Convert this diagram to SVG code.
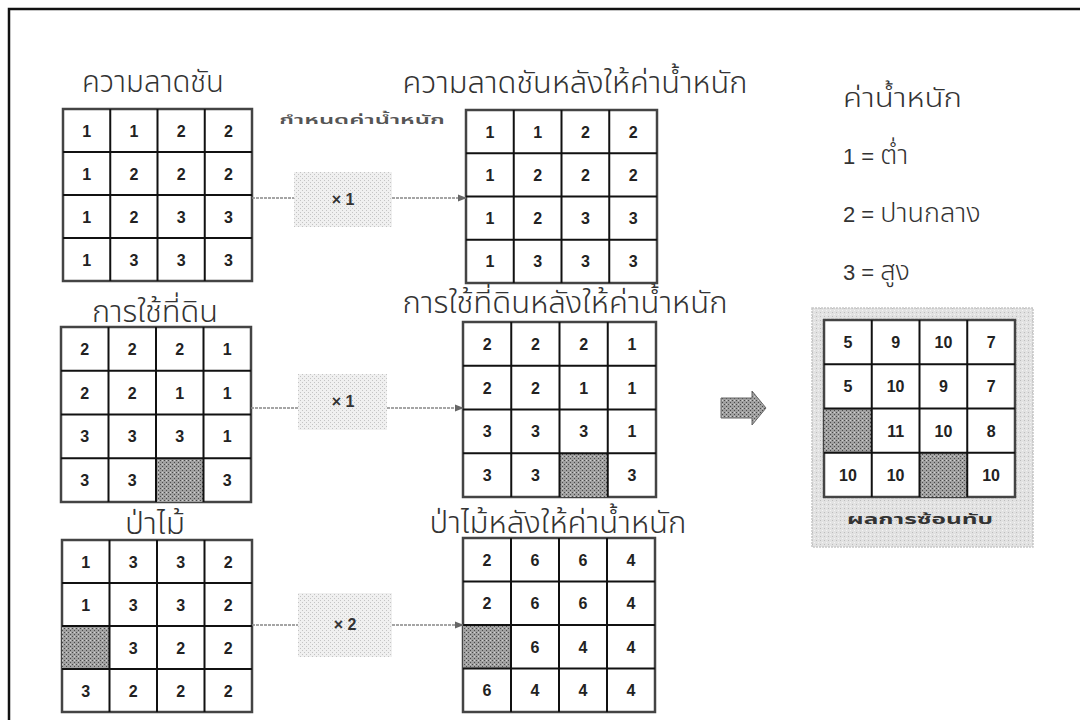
<svg xmlns="http://www.w3.org/2000/svg" width="1080" height="720" viewBox="0 0 1080 720">
<defs>
<pattern id="dark" width="4" height="4" patternUnits="userSpaceOnUse">
<rect width="4" height="4" fill="#a0a0a0"/>
<rect x="0" y="0" width="1" height="1" fill="#4a4a4a"/>
<rect x="2" y="2" width="1" height="1" fill="#4a4a4a"/>
<rect x="2" y="0" width="1" height="1" fill="#cfcfcf"/>
</pattern>
<pattern id="light" width="4" height="4" patternUnits="userSpaceOnUse">
<rect width="4" height="4" fill="#f0f0f0"/>
<rect x="0" y="0" width="1" height="1" fill="#c4c4c4"/>
<rect x="2" y="2" width="1" height="1" fill="#c4c4c4"/>
</pattern>
<pattern id="mid" width="4" height="4" patternUnits="userSpaceOnUse">
<rect width="4" height="4" fill="#e2e2e2"/>
<rect x="0" y="0" width="1" height="1" fill="#bdbdbd"/>
<rect x="2" y="2" width="1" height="1" fill="#f4f4f4"/>
</pattern>
<marker id="ah" viewBox="0 0 10 10" refX="9" refY="5" markerWidth="9" markerHeight="9" markerUnits="userSpaceOnUse" orient="auto">
<path d="M0,1 L10,5 L0,9 z" fill="#666"/>
</marker>
<style>
.outer{fill:#fff;stroke:#444;stroke-width:2.5}
.ln{stroke:#111;stroke-width:2}
.gc{fill:url(#dark)}
.n{font-family:"Liberation Sans",Arial,sans-serif;font-weight:bold;font-size:16px;fill:#222;text-anchor:middle}
.t{font-family:"Noto Sans Thai","Noto Sans","DejaVu Sans",sans-serif;font-size:30px;font-weight:300;fill:#333;text-anchor:middle}
.lg{font-family:"Noto Sans Thai","Liberation Sans","Noto Sans",sans-serif;font-size:27px;font-weight:300;fill:#333}
.dg{font-family:"Liberation Sans",Arial,sans-serif;font-size:22px;font-weight:normal}
.wb{fill:url(#light)}
.wt{font-family:"Liberation Sans",Arial,sans-serif;font-weight:bold;font-size:16px;fill:#333;text-anchor:middle}
.cn{stroke:#888;stroke-width:1.6;stroke-dasharray:3 1;fill:none}
</style>
</defs>
<rect width="1080" height="720" fill="#fff"/>
<path d="M1080 9 H9 V720" fill="none" stroke="#111" stroke-width="2.5"/>

<g id="title-slope"><text class="t" x="153" y="92" textLength="142" lengthAdjust="spacingAndGlyphs">ความลาดชัน</text></g>
<g id="title-slope-w"><text class="t" x="575" y="93" textLength="345" lengthAdjust="spacingAndGlyphs">ความลาดชันหลังให้ค่าน้ำหนัก</text></g>
<g id="title-land"><text class="t" x="155" y="322" textLength="126" lengthAdjust="spacingAndGlyphs">การใช้ที่ดิน</text></g>
<g id="title-land-w"><text class="t" x="565" y="313" textLength="325" lengthAdjust="spacingAndGlyphs">การใช้ที่ดินหลังให้ค่าน้ำหนัก</text></g>
<g id="title-forest"><text class="t" x="155" y="534" textLength="60" lengthAdjust="spacingAndGlyphs">ป่าไม้</text></g>
<g id="title-forest-w"><text class="t" x="558" y="533" textLength="257" lengthAdjust="spacingAndGlyphs">ป่าไม้หลังให้ค่าน้ำหนัก</text></g>
<g id="weight-label"><text transform="translate(362,124) scale(1.85,1)" x="0" y="0" font-family="Noto Sans Thai,Noto Sans,sans-serif" font-size="13" font-weight="600" fill="#555" text-anchor="middle">กำหนดค่าน้ำหนัก</text></g>

<g id="legend">
<text class="lg" x="843" y="107" textLength="119" lengthAdjust="spacingAndGlyphs">ค่าน้ำหนัก</text>
<text class="lg" x="843" y="164"><tspan class="dg">1 = </tspan>ต่ำ</text>
<text class="lg" x="843" y="222"><tspan class="dg">2 = </tspan>ปานกลาง</text>
<text class="lg" x="843" y="280"><tspan class="dg">3 = </tspan>สูง</text>
</g>

<g id="grid-slope">
<rect class="outer" x="63" y="109" width="189" height="172"/>
<path class="ln" d="M110.25 109V281M157.5 109V281M204.75 109V281M63 152H252M63 195H252M63 238H252"/>
<text class="n" x="86.6" y="136.5">1</text><text class="n" x="133.9" y="136.5">1</text><text class="n" x="181.1" y="136.5">2</text><text class="n" x="228.4" y="136.5">2</text>
<text class="n" x="86.6" y="179.5">1</text><text class="n" x="133.9" y="179.5">2</text><text class="n" x="181.1" y="179.5">2</text><text class="n" x="228.4" y="179.5">2</text>
<text class="n" x="86.6" y="222.5">1</text><text class="n" x="133.9" y="222.5">2</text><text class="n" x="181.1" y="222.5">3</text><text class="n" x="228.4" y="222.5">3</text>
<text class="n" x="86.6" y="265.5">1</text><text class="n" x="133.9" y="265.5">3</text><text class="n" x="181.1" y="265.5">3</text><text class="n" x="228.4" y="265.5">3</text>
</g>

<g id="grid-land">
<rect class="outer" x="61" y="327" width="190" height="175"/>
<rect class="gc" x="156" y="458.25" width="47.5" height="43.75"/>
<path class="ln" d="M108.5 327V502M156 327V502M203.5 327V502M61 370.75H251M61 414.5H251M61 458.25H251"/>
<text class="n" x="84.75" y="354.9">2</text><text class="n" x="132.25" y="354.9">2</text><text class="n" x="179.75" y="354.9">2</text><text class="n" x="227.25" y="354.9">1</text>
<text class="n" x="84.75" y="398.6">2</text><text class="n" x="132.25" y="398.6">2</text><text class="n" x="179.75" y="398.6">1</text><text class="n" x="227.25" y="398.6">1</text>
<text class="n" x="84.75" y="442.4">3</text><text class="n" x="132.25" y="442.4">3</text><text class="n" x="179.75" y="442.4">3</text><text class="n" x="227.25" y="442.4">1</text>
<text class="n" x="84.75" y="486.1">3</text><text class="n" x="132.25" y="486.1">3</text><text class="n" x="227.25" y="486.1">3</text>
</g>

<g id="grid-forest">
<rect class="outer" x="62" y="540" width="190" height="172"/>
<rect class="gc" x="62" y="626" width="47.5" height="43"/>
<path class="ln" d="M109.5 540V712M157 540V712M204.5 540V712M62 583H252M62 626H252M62 669H252"/>
<text class="n" x="85.75" y="567.5">1</text><text class="n" x="133.25" y="567.5">3</text><text class="n" x="180.75" y="567.5">3</text><text class="n" x="228.25" y="567.5">2</text>
<text class="n" x="85.75" y="610.5">1</text><text class="n" x="133.25" y="610.5">3</text><text class="n" x="180.75" y="610.5">3</text><text class="n" x="228.25" y="610.5">2</text>
<text class="n" x="133.25" y="653.5">3</text><text class="n" x="180.75" y="653.5">2</text><text class="n" x="228.25" y="653.5">2</text>
<text class="n" x="85.75" y="696.5">3</text><text class="n" x="133.25" y="696.5">2</text><text class="n" x="180.75" y="696.5">2</text><text class="n" x="228.25" y="696.5">2</text>
</g>

<g id="grid-slope-w">
<rect class="outer" x="466" y="110" width="191" height="173"/>
<path class="ln" d="M513.75 110V283M561.5 110V283M609.25 110V283M466 153.25H657M466 196.5H657M466 239.75H657"/>
<text class="n" x="489.9" y="137.6">1</text><text class="n" x="537.6" y="137.6">1</text><text class="n" x="585.4" y="137.6">2</text><text class="n" x="633.1" y="137.6">2</text>
<text class="n" x="489.9" y="180.9">1</text><text class="n" x="537.6" y="180.9">2</text><text class="n" x="585.4" y="180.9">2</text><text class="n" x="633.1" y="180.9">2</text>
<text class="n" x="489.9" y="224.1">1</text><text class="n" x="537.6" y="224.1">2</text><text class="n" x="585.4" y="224.1">3</text><text class="n" x="633.1" y="224.1">3</text>
<text class="n" x="489.9" y="267.4">1</text><text class="n" x="537.6" y="267.4">3</text><text class="n" x="585.4" y="267.4">3</text><text class="n" x="633.1" y="267.4">3</text>
</g>

<g id="grid-land-w">
<rect class="outer" x="463" y="322" width="193" height="175"/>
<rect class="gc" x="559.5" y="453.25" width="48.25" height="43.75"/>
<path class="ln" d="M511.25 322V497M559.5 322V497M607.75 322V497M463 365.75H656M463 409.5H656M463 453.25H656"/>
<text class="n" x="487.1" y="349.9">2</text><text class="n" x="535.4" y="349.9">2</text><text class="n" x="583.6" y="349.9">2</text><text class="n" x="631.9" y="349.9">1</text>
<text class="n" x="487.1" y="393.6">2</text><text class="n" x="535.4" y="393.6">2</text><text class="n" x="583.6" y="393.6">1</text><text class="n" x="631.9" y="393.6">1</text>
<text class="n" x="487.1" y="437.4">3</text><text class="n" x="535.4" y="437.4">3</text><text class="n" x="583.6" y="437.4">3</text><text class="n" x="631.9" y="437.4">1</text>
<text class="n" x="487.1" y="481.1">3</text><text class="n" x="535.4" y="481.1">3</text><text class="n" x="631.9" y="481.1">3</text>
</g>

<g id="grid-forest-w">
<rect class="outer" x="463" y="538" width="192" height="174"/>
<rect class="gc" x="463" y="625" width="48" height="43.5"/>
<path class="ln" d="M511 538V712M559 538V712M607 538V712M463 581.5H655M463 625H655M463 668.5H655"/>
<text class="n" x="487" y="565.75">2</text><text class="n" x="535" y="565.75">6</text><text class="n" x="583" y="565.75">6</text><text class="n" x="631" y="565.75">4</text>
<text class="n" x="487" y="609.25">2</text><text class="n" x="535" y="609.25">6</text><text class="n" x="583" y="609.25">6</text><text class="n" x="631" y="609.25">4</text>
<text class="n" x="535" y="652.75">6</text><text class="n" x="583" y="652.75">4</text><text class="n" x="631" y="652.75">4</text>
<text class="n" x="487" y="696.25">6</text><text class="n" x="535" y="696.25">4</text><text class="n" x="583" y="696.25">4</text><text class="n" x="631" y="696.25">4</text>
</g>

<g id="weight-1"><rect class="wb" x="294" y="172" width="98" height="55"/><text class="wt" x="343" y="205">× 1</text></g>
<g id="weight-2"><rect class="wb" x="298" y="374" width="89" height="56"/><text class="wt" x="343" y="407">× 1</text></g>
<g id="weight-3"><rect class="wb" x="298" y="593" width="94" height="64"/><text class="wt" x="345" y="630">× 2</text></g>

<g id="result">
<rect x="812" y="308" width="221" height="239" fill="url(#mid)" stroke="#c8c8c8" stroke-width="1.5" stroke-dasharray="2 1"/>
<rect class="outer" x="824" y="320" width="191" height="177"/>
<rect class="gc" x="824" y="408.5" width="47.75" height="44.25"/>
<rect class="gc" x="919.5" y="452.75" width="47.75" height="44.25"/>
<path class="ln" d="M871.75 320V497M919.5 320V497M967.25 320V497M824 364.25H1015M824 408.5H1015M824 452.75H1015"/>
<text class="n" x="847.9" y="348.1">5</text><text class="n" x="895.6" y="348.1">9</text><text class="n" x="943.4" y="348.1">10</text><text class="n" x="991.1" y="348.1">7</text>
<text class="n" x="847.9" y="392.4">5</text><text class="n" x="895.6" y="392.4">10</text><text class="n" x="943.4" y="392.4">9</text><text class="n" x="991.1" y="392.4">7</text>
<text class="n" x="895.6" y="436.6">11</text><text class="n" x="943.4" y="436.6">10</text><text class="n" x="991.1" y="436.6">8</text>
<text class="n" x="847.9" y="480.9">10</text><text class="n" x="895.6" y="480.9">10</text><text class="n" x="991.1" y="480.9">10</text>
<text x="920" y="524" font-family="Noto Sans Thai,Noto Sans,sans-serif" font-size="14" font-weight="bold" fill="#333" text-anchor="middle" textLength="146" lengthAdjust="spacingAndGlyphs">ผลการซ้อนทับ</text>
</g>

<g id="connectors">
<line class="cn" x1="252" y1="198" x2="294" y2="198"/>
<line class="cn" x1="392" y1="198" x2="466" y2="198" marker-end="url(#ah)"/>
<line class="cn" x1="251" y1="408" x2="298" y2="408"/>
<line class="cn" x1="387" y1="408" x2="463" y2="408" marker-end="url(#ah)"/>
<line class="cn" x1="252" y1="625" x2="298" y2="625"/>
<line class="cn" x1="392" y1="625" x2="463" y2="625" marker-end="url(#ah)"/>
<polygon points="721,398 752,398 752,391 766,408 752,425 752,418 721,418" fill="url(#dark)" stroke="#666" stroke-width="1"/>
</g>
</svg>
